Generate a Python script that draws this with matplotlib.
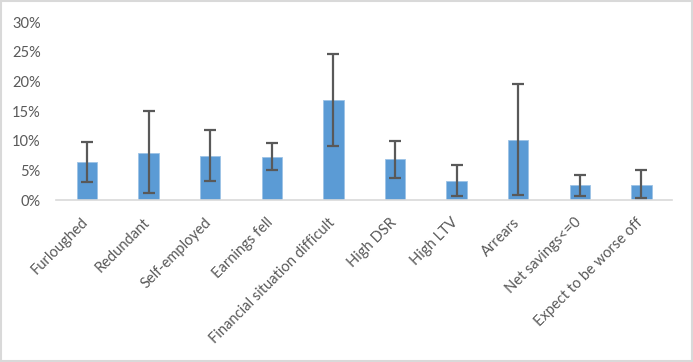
import matplotlib
matplotlib.use('Agg')
import matplotlib.pyplot as plt
import matplotlib.transforms as mtransforms
from matplotlib.patches import Rectangle
from matplotlib.ticker import PercentFormatter

categories = ['Furloughed', 'Redundant', 'Self-employed', 'Earnings fell',
              'Financial situation difficult', 'High DSR', 'High LTV',
              'Arrears', 'Net savings<=0', 'Expect to be worse off']
values = [6.4, 8.0, 7.5, 7.3, 16.9, 6.9, 3.2, 10.2, 2.5, 2.6]
err_high = [9.7, 15.0, 11.8, 9.6, 24.7, 10.0, 5.9, 19.6, 4.3, 5.1]
err_low = [3.1, 1.2, 3.2, 5.1, 9.1, 3.7, 0.6, 0.9, 0.7, 0.3]

plt.rcParams['font.family'] = ['Lato', 'DejaVu Sans']

fig = plt.figure(figsize=(6.93, 3.62), dpi=100)
ax = fig.add_axes([0.081, 0.4475, 0.889, 0.4915])

x = list(range(len(categories)))
lower = [v - l for v, l in zip(values, err_low)]
upper = [h - v for v, h in zip(values, err_high)]

ax.bar(x, values, width=0.33, color='#5B9BD5', edgecolor='#9DC3E6', linewidth=0.6, zorder=2)
ax.errorbar(x, values, yerr=[lower, upper], fmt='none', ecolor='#595959',
            elinewidth=1.6, capsize=4, capthick=1.6, zorder=3)

ax.set_xlim(-0.5, len(categories) - 0.5)
ax.set_ylim(0, 30)
ax.set_yticks([0, 5, 10, 15, 20, 25, 30])
ax.yaxis.set_major_formatter(PercentFormatter(decimals=0))

for side in ['top', 'right', 'left']:
    ax.spines[side].set_visible(False)
ax.spines['bottom'].set_color('#d9d9d9')
ax.spines['bottom'].set_linewidth(1.2)

ax.tick_params(axis='y', length=0, pad=11, labelsize=10.5, labelcolor='#595959')
ax.tick_params(axis='x', length=0, pad=11, labelsize=10.5, labelcolor='#595959')
ax.set_xticks(x)
ax.set_xticklabels(categories, rotation=45, ha='right', rotation_mode='anchor')
# nudge rotated labels left so their end sits at the tick
shift = mtransforms.ScaledTranslation(-5.5 / 100, 0, fig.dpi_scale_trans)
for lab in ax.get_xticklabels():
    lab.set_transform(lab.get_transform() + shift)

fig.patches.append(Rectangle((0.001, 0.002), 0.997, 0.995, transform=fig.transFigure,
                             fill=False, edgecolor='#d9d9d9', linewidth=1.5))

fig.savefig('out.png', dpi=100)
